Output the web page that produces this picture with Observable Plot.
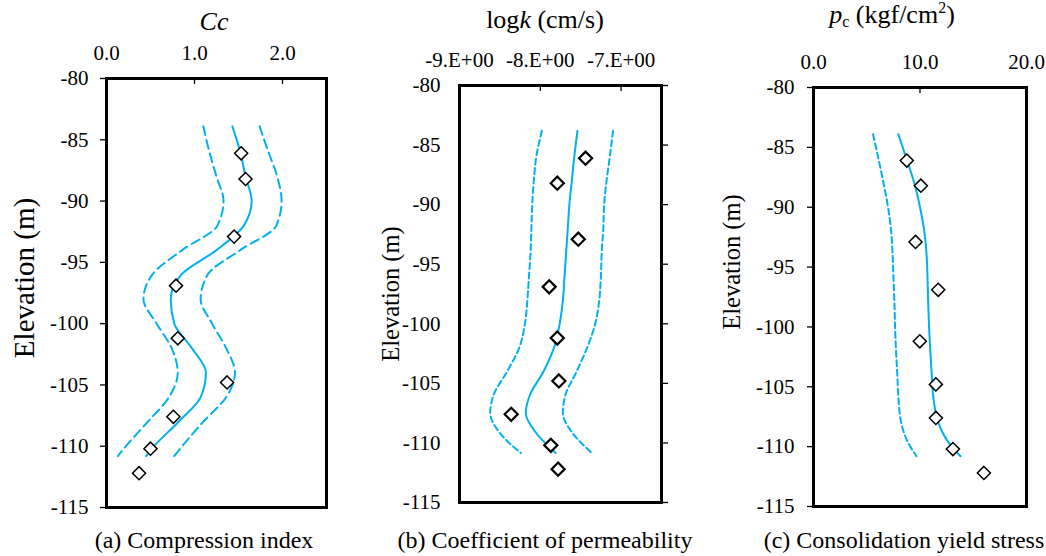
<!DOCTYPE html>
<html>
<head>
<meta charset="utf-8">
<script src="https://cdn.jsdelivr.net/npm/d3@7"></script>
<script src="https://cdn.jsdelivr.net/npm/@observablehq/plot@0.6"></script>
<style>
  body { margin: 0; background: #fff; }
  #chart { position: relative; width: 1046px; height: 556px; background: #fff; }
  #chart > svg { position: absolute; top: 0; }
  #chart svg, #chart svg text, #chart svg tspan {
    font-family: "Liberation Serif", "DejaVu Serif", serif !important;
  }
</style>
</head>
<body>
<div id="chart"></div>
<script>
// ---------- data ----------
const elev = [-86.1, -88.2, -92.9, -96.9, -101.2, -104.8, -107.6, -110.2, -112.2];
const ccObs = [1.53, 1.58, 1.45, 0.79, 0.81, 1.37, 0.76, 0.50, 0.37];
const logkObs = [-7.44, -7.79, -7.53, -7.89, -7.79, -7.77, -8.36, -7.87, -7.78];
const pcObs = [8.76, 10.08, 9.58, 11.71, 9.98, 11.49, 11.49, 13.09, 16.0];

const ccElev = [-83.9, -86, -88, -90, -92, -94, -96, -98, -100, -102, -104, -106, -108, -110, -110.8];
const ccMean = [1.43, 1.52, 1.58, 1.65, 1.56, 1.25, 0.85, 0.73, 0.77, 0.97, 1.13, 1.07, 0.82, 0.54, 0.45];
const ccLower = [1.10, 1.17, 1.25, 1.33, 1.26, 0.86, 0.52, 0.42, 0.57, 0.74, 0.81, 0.71, 0.47, 0.22, 0.13];
const ccUpper = [1.74, 1.84, 1.94, 1.99, 1.93, 1.52, 1.15, 1.07, 1.20, 1.36, 1.46, 1.36, 1.10, 0.86, 0.77];

const kElev = [-83.8, -86, -88, -90, -92, -94, -96, -98, -100, -102, -104, -106, -107.5, -109, -110.85];
const kMean = [-7.54, -7.58, -7.61, -7.64, -7.66, -7.68, -7.70, -7.72, -7.76, -7.83, -7.96, -8.13, -8.18, -8.07, -7.81];
const kLower = [-7.98, -8.05, -8.08, -8.10, -8.11, -8.12, -8.14, -8.16, -8.19, -8.26, -8.41, -8.58, -8.62, -8.52, -8.24];
const kUpper = [-7.10, -7.14, -7.18, -7.21, -7.22, -7.24, -7.25, -7.27, -7.32, -7.42, -7.55, -7.69, -7.72, -7.62, -7.36];

const pcElev = [-83.9, -86, -88, -90, -92, -94, -96, -98, -100, -102, -104, -106, -108, -109.5, -110.8];
const pcMean = [7.97, 8.75, 9.47, 10.0, 10.4, 10.62, 10.71, 10.77, 10.85, 10.97, 11.1, 11.27, 11.72, 12.56, 13.8];
const pcLower = [5.59, 6.11, 6.58, 7.0, 7.29, 7.43, 7.51, 7.60, 7.66, 7.75, 7.87, 7.98, 8.24, 8.79, 9.67];

const yTicks = [-80, -85, -90, -95, -100, -105, -110, -115];
const ccTicks = [0, 1, 2];
const kTicks = [-9, -8, -7];
const pcTicks = [0, 10, 20];

// ---------- helpers ----------
const BLUE = "#00B0F0";
const FONT = "Liberation Serif, DejaVu Serif, serif";
const H = 556;
const rows = (ys, xs) => ys.map((y, i) => ({y, x: xs[i]}));

function panel(cfg) {
  const innerH = H - cfg.mt - cfg.mb;
  const marks = [];
  for (const c of cfg.curves) {
    marks.push(Plot.line(rows(c.elev, c.x), {
      x: "x", y: "y", curve: "monotone-y", stroke: BLUE, strokeWidth: 2,
      strokeDasharray: c.dash || null
    }));
  }
  marks.push(Plot.dot(rows(elev, cfg.obs), {
    x: "x", y: "y", symbol: "diamond2", r: 5.9, fill: "white",
    stroke: "#000", strokeWidth: cfg.dotStroke
  }));
  marks.push(Plot.tickX(cfg.xTicks, {x: d => d, stroke: "#000", strokeWidth: 1.3, insetBottom: innerH - 6}));
  marks.push(Plot.axisX({anchor: "top", ticks: cfg.xTicks, tickFormat: cfg.xFmt, tickSize: 0,
    tickPadding: cfg.xPad, label: null, fontSize: 21}));
  if (cfg.yRight) {
    marks.push(Plot.axisY({anchor: "left", ticks: yTicks, tickFormat: d => String(d), tickSize: 0,
      tickPadding: cfg.yPad, label: null, fontSize: 21}));
    marks.push(Plot.axisY({anchor: "right", ticks: yTicks, tickFormat: () => "", tickSize: 6,
      strokeWidth: 1.3, label: null}));
  } else {
    marks.push(Plot.axisY({anchor: "left", ticks: yTicks, tickFormat: d => String(d), tickSize: 6,
      tickPadding: cfg.yPad, strokeWidth: 1.3, label: null, fontSize: 21}));
  }
  marks.push(Plot.frame({stroke: "#000", strokeWidth: 3}));
  const svg = Plot.plot({
    width: cfg.width, height: H,
    marginLeft: cfg.ml, marginRight: cfg.mr, marginTop: cfg.mt, marginBottom: cfg.mb,
    style: {background: "transparent", fontFamily: FONT, fontSize: "21px", color: "#000", overflow: "visible"},
    x: {domain: cfg.xDomain},
    y: {domain: [-115, -80]},
    marks
  });
  svg.style.left = cfg.left + "px";
  return svg;
}

const chart = document.getElementById("chart");

chart.append(panel({
  left: 0, width: 350, ml: 106, mr: 24, mt: 78, mb: 49,
  xDomain: [0, 2.5], xTicks: ccTicks, xFmt: d => d.toFixed(1), xPad: 19, yPad: 12,
  obs: ccObs, dotStroke: 1.5,
  curves: [
    {elev: ccElev, x: ccLower, dash: "9,5"},
    {elev: ccElev, x: ccUpper, dash: "9,5"},
    {elev: ccElev, x: ccMean}
  ]
}));

chart.append(panel({
  left: 350, width: 350, ml: 109, mr: 39, mt: 85, mb: 54,
  xDomain: [-9, -6.5], xTicks: kTicks, xFmt: d => d + ".E+00", xPad: 19, yPad: 19, yRight: true,
  obs: logkObs, dotStroke: 2.2,
  curves: [
    {elev: kElev, x: kLower, dash: "6,3.5"},
    {elev: kElev, x: kUpper, dash: "6,3.5"},
    {elev: kElev, x: kMean}
  ]
}));

chart.append(panel({
  left: 700, width: 346, ml: 113, mr: 20, mt: 87, mb: 50,
  xDomain: [0, 20], xTicks: pcTicks, xFmt: d => d.toFixed(1), xPad: 19, yPad: 13,
  obs: pcObs, dotStroke: 1.5,
  curves: [
    {elev: pcElev, x: pcLower, dash: "6,3.5"},
    {elev: pcElev, x: pcMean}
  ]
}));

// ---------- titles, axis names and captions ----------
const over = d3.create("svg").attr("width", 1046).attr("height", H)
  .style("left", "0px").style("pointer-events", "none")
  .style("font-family", FONT).attr("fill", "#000");

over.append("text").attr("x", 214).attr("y", 30).attr("text-anchor", "middle")
  .attr("font-size", 26).attr("font-style", "italic").text("Cc");

const tb = over.append("text").attr("x", 545).attr("y", 28).attr("text-anchor", "middle").attr("font-size", 26);
tb.append("tspan").text("log");
tb.append("tspan").attr("font-style", "italic").text("k");
tb.append("tspan").text(" (cm/s)");

const tc = over.append("text").attr("x", 892).attr("y", 23).attr("text-anchor", "middle").attr("font-size", 26);
tc.append("tspan").attr("font-style", "italic").text("p");
tc.append("tspan").attr("font-size", 16).attr("dy", 4).text("c");
tc.append("tspan").attr("dy", -4).text(" (kgf/cm");
tc.append("tspan").attr("font-size", 16).attr("dy", -10).text("2");
tc.append("tspan").attr("dy", 10).text(")");

const yLabels = [[34, 278, 29], [399, 294, 24.5], [740, 262, 24.5]];
for (const [x, y, fs] of yLabels) {
  over.append("text").attr("transform", `translate(${x},${y}) rotate(-90)`)
    .attr("text-anchor", "middle").attr("font-size", fs).text("Elevation (m)");
}

const captions = [[204, "(a) Compression index"], [545, "(b) Coefficient of permeability"], [904, "(c) Consolidation yield stress"]];
for (const [x, t] of captions) {
  over.append("text").attr("x", x).attr("y", 548).attr("text-anchor", "middle").attr("font-size", 24).text(t);
}

chart.append(over.node());
</script>
</body>
</html>
